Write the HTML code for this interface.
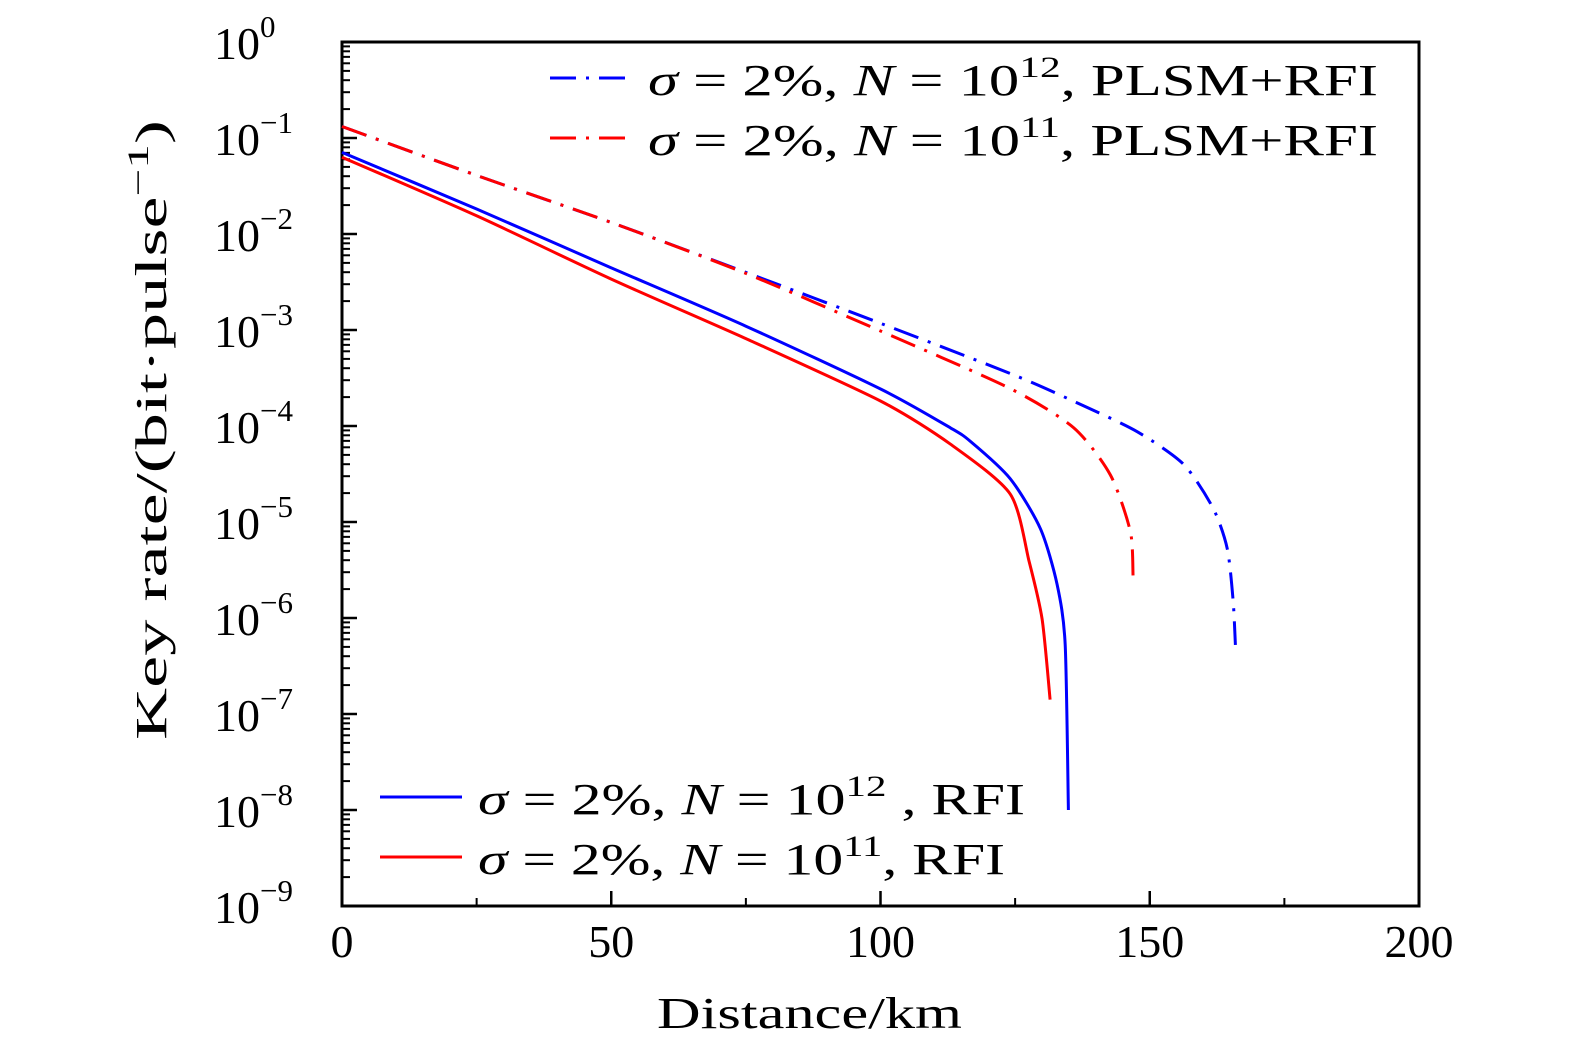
<!DOCTYPE html>
<html><head><meta charset="utf-8"><style>
body{margin:0;background:#fff}
svg{display:block}
text{font-family:"Liberation Serif","DejaVu Serif",serif;fill:#000}
</style></head><body>
<svg id="chart" width="1575" height="1053" viewBox="0 0 1575 1053">
<g id="axes"></g>
<g id="series"></g>
<g id="legend">
 <line x1="550" y1="78" x2="632" y2="78" stroke="#0000ff" stroke-width="3" stroke-dasharray="26 10 3 10"/>
 <text x="648" y="95" font-size="44" textLength="730" lengthAdjust="spacingAndGlyphs"><tspan font-style="italic">σ</tspan> = 2%, <tspan font-style="italic">N</tspan> = 10<tspan font-size="30" dy="-18">12</tspan><tspan dy="18">, PLSM+RFI</tspan></text>
 <line x1="550" y1="138" x2="632" y2="138" stroke="#ff0000" stroke-width="3" stroke-dasharray="26 10 3 10"/>
 <text x="648" y="155" font-size="44" textLength="730" lengthAdjust="spacingAndGlyphs"><tspan font-style="italic">σ</tspan> = 2%, <tspan font-style="italic">N</tspan> = 10<tspan font-size="30" dy="-18">11</tspan><tspan dy="18">, PLSM+RFI</tspan></text>
 <line x1="380" y1="797" x2="462" y2="797" stroke="#0000ff" stroke-width="3"/>
 <text x="478" y="814" font-size="44" textLength="547" lengthAdjust="spacingAndGlyphs"><tspan font-style="italic">σ</tspan> = 2%, <tspan font-style="italic">N</tspan> = 10<tspan font-size="30" dy="-18">12</tspan><tspan dy="18"> , RFI</tspan></text>
 <line x1="380" y1="857" x2="462" y2="857" stroke="#ff0000" stroke-width="3"/>
 <text x="478" y="874" font-size="44" textLength="527" lengthAdjust="spacingAndGlyphs"><tspan font-style="italic">σ</tspan> = 2%, <tspan font-style="italic">N</tspan> = 10<tspan font-size="30" dy="-18">11</tspan><tspan dy="18">, RFI</tspan></text>
</g>
<text x="657" y="1028" font-size="44" textLength="305" lengthAdjust="spacingAndGlyphs">Distance/km</text>
<text transform="translate(166,740) rotate(-90)" font-size="44" textLength="620" lengthAdjust="spacingAndGlyphs">Key rate/(bit·pulse<tspan font-size="30" dy="-18">−1</tspan><tspan dy="18">)</tspan></text>
</svg>
<script>
const xTicks = [0, 50, 100, 150, 200];
const yExps = [0, -1, -2, -3, -4, -5, -6, -7, -8, -9];
const blueRfiKm = [0, 25, 49.9, 75, 100.2, 113.0, 116.7, 124.1, 129.7, 132.8, 134.3, 134.9];
const blueRfiLog = [-1.15, -1.74, -2.35, -2.96, -3.62, -4.02, -4.16, -4.55, -5.07, -5.65, -6.28, -8.0];
const redRfiKm = [0, 25, 50, 75, 100, 113, 124.1, 127.6, 130.0, 131.5];
const redRfiLog = [-1.20, -1.81, -2.47, -3.09, -3.74, -4.19, -4.71, -5.41, -6.01, -6.85];
const bluePlsmKm = [0, 25, 50, 75, 100, 125.3, 137.7, 147.7, 156.3, 161.8, 164.4, 165.5, 165.9];
const bluePlsmLog = [-0.88, -1.39, -1.88, -2.40, -2.93, -3.48, -3.79, -4.06, -4.40, -4.86, -5.28, -5.83, -6.28];
const redPlsmKm = [0, 25, 50, 75, 100, 124.1, 135.9, 142.7, 146.4, 146.9];
const redPlsmLog = [-0.88, -1.39, -1.88, -2.41, -3.01, -3.61, -4.02, -4.51, -5.10, -5.57];

const X0 = 342, X1 = 1419, Y0 = 42, Y1 = 906;
const xs = km => X0 + (km / 200) * (X1 - X0);
const ys = lg => Y0 + (-lg / 9) * (Y1 - Y0);
const NS = "http://www.w3.org/2000/svg";
const axes = document.getElementById('axes');
const series = document.getElementById('series');
function mk(tag, attrs, parent) {
  const e = document.createElementNS(NS, tag);
  for (const k in attrs) e.setAttribute(k, attrs[k]);
  parent.appendChild(e);
  return e;
}
const frame = mk('rect', {x: X0, y: Y0, width: X1 - X0, height: Y1 - Y0, fill: 'none', stroke: '#000', 'stroke-width': 3}, axes);


xTicks.forEach((t, i) => {
  const x = xs(t);
  if (i > 0 && i < xTicks.length - 1) {
    const tk = mk('line', {x1: x, y1: Y1, x2: x, y2: Y1 - 15, stroke: '#000', 'stroke-width': 2.5}, axes);
    
    
  }
  if (i < xTicks.length - 1) {
    const mx = xs(t + 25);
    const mt = mk('line', {x1: mx, y1: Y1, x2: mx, y2: Y1 - 8, stroke: '#000', 'stroke-width': 2}, axes);
    
    
  }
  const lb = mk('text', {x: x, y: 957, 'font-size': 46, 'text-anchor': 'middle'}, axes);
  lb.textContent = t;
  
  
});
yExps.forEach((e, i) => {
  const y = ys(e);
  const tk = mk('line', {x1: X0, y1: y, x2: X0 + 15, y2: y, stroke: '#000', 'stroke-width': 2.5}, axes);
  
  
  if (i < yExps.length - 1) {
    for (let m = 2; m <= 9; m++) {
      const my = ys(e - 1 + Math.log10(m));
      const mt = mk('line', {x1: X0, y1: my, x2: X0 + 8, y2: my, stroke: '#000', 'stroke-width': 2}, axes);
      
      
    }
  }
  const lb = mk('text', {x: 214, y: y + 17, 'font-size': 46}, axes);
  lb.innerHTML = '10<tspan font-size="31" dy="-22">' + (e === 0 ? '0' : '−' + (-e)) + '</tspan>';
  
  
});
function line(km, lg, color, dash, name) {
  const P = km.map((k, i) => [xs(k), ys(lg[i])]);
  let d = 'M' + P[0][0].toFixed(1) + ',' + P[0][1].toFixed(1);
  for (let i = 0; i < P.length - 1; i++) {
    const p0 = P[Math.max(0, i - 1)], p1 = P[i], p2 = P[i + 1], p3 = P[Math.min(P.length - 1, i + 2)];
    const c1 = [p1[0] + (p2[0] - p0[0]) / 8, p1[1] + (p2[1] - p0[1]) / 8];
    const c2 = [p2[0] - (p3[0] - p1[0]) / 8, p2[1] - (p3[1] - p1[1]) / 8];
    d += ' C' + c1[0].toFixed(1) + ',' + c1[1].toFixed(1) + ' ' + c2[0].toFixed(1) + ',' + c2[1].toFixed(1) + ' ' + p2[0].toFixed(1) + ',' + p2[1].toFixed(1);
  }
  const p = mk('path', {d: d, fill: 'none', stroke: color, 'stroke-width': 3, 'stroke-linejoin': 'round'}, series);
  if (dash) p.setAttribute('stroke-dasharray', '26 10 3 10');
  
  
}
line(bluePlsmKm, bluePlsmLog, '#0000ff', true, 'line-blue-plsm-rfi');
line(redPlsmKm, redPlsmLog, '#ff0000', true, 'line-red-plsm-rfi');
line(blueRfiKm, blueRfiLog, '#0000ff', false, 'line-blue-rfi');
line(redRfiKm, redRfiLog, '#ff0000', false, 'line-red-rfi');
</script>
</body></html>
